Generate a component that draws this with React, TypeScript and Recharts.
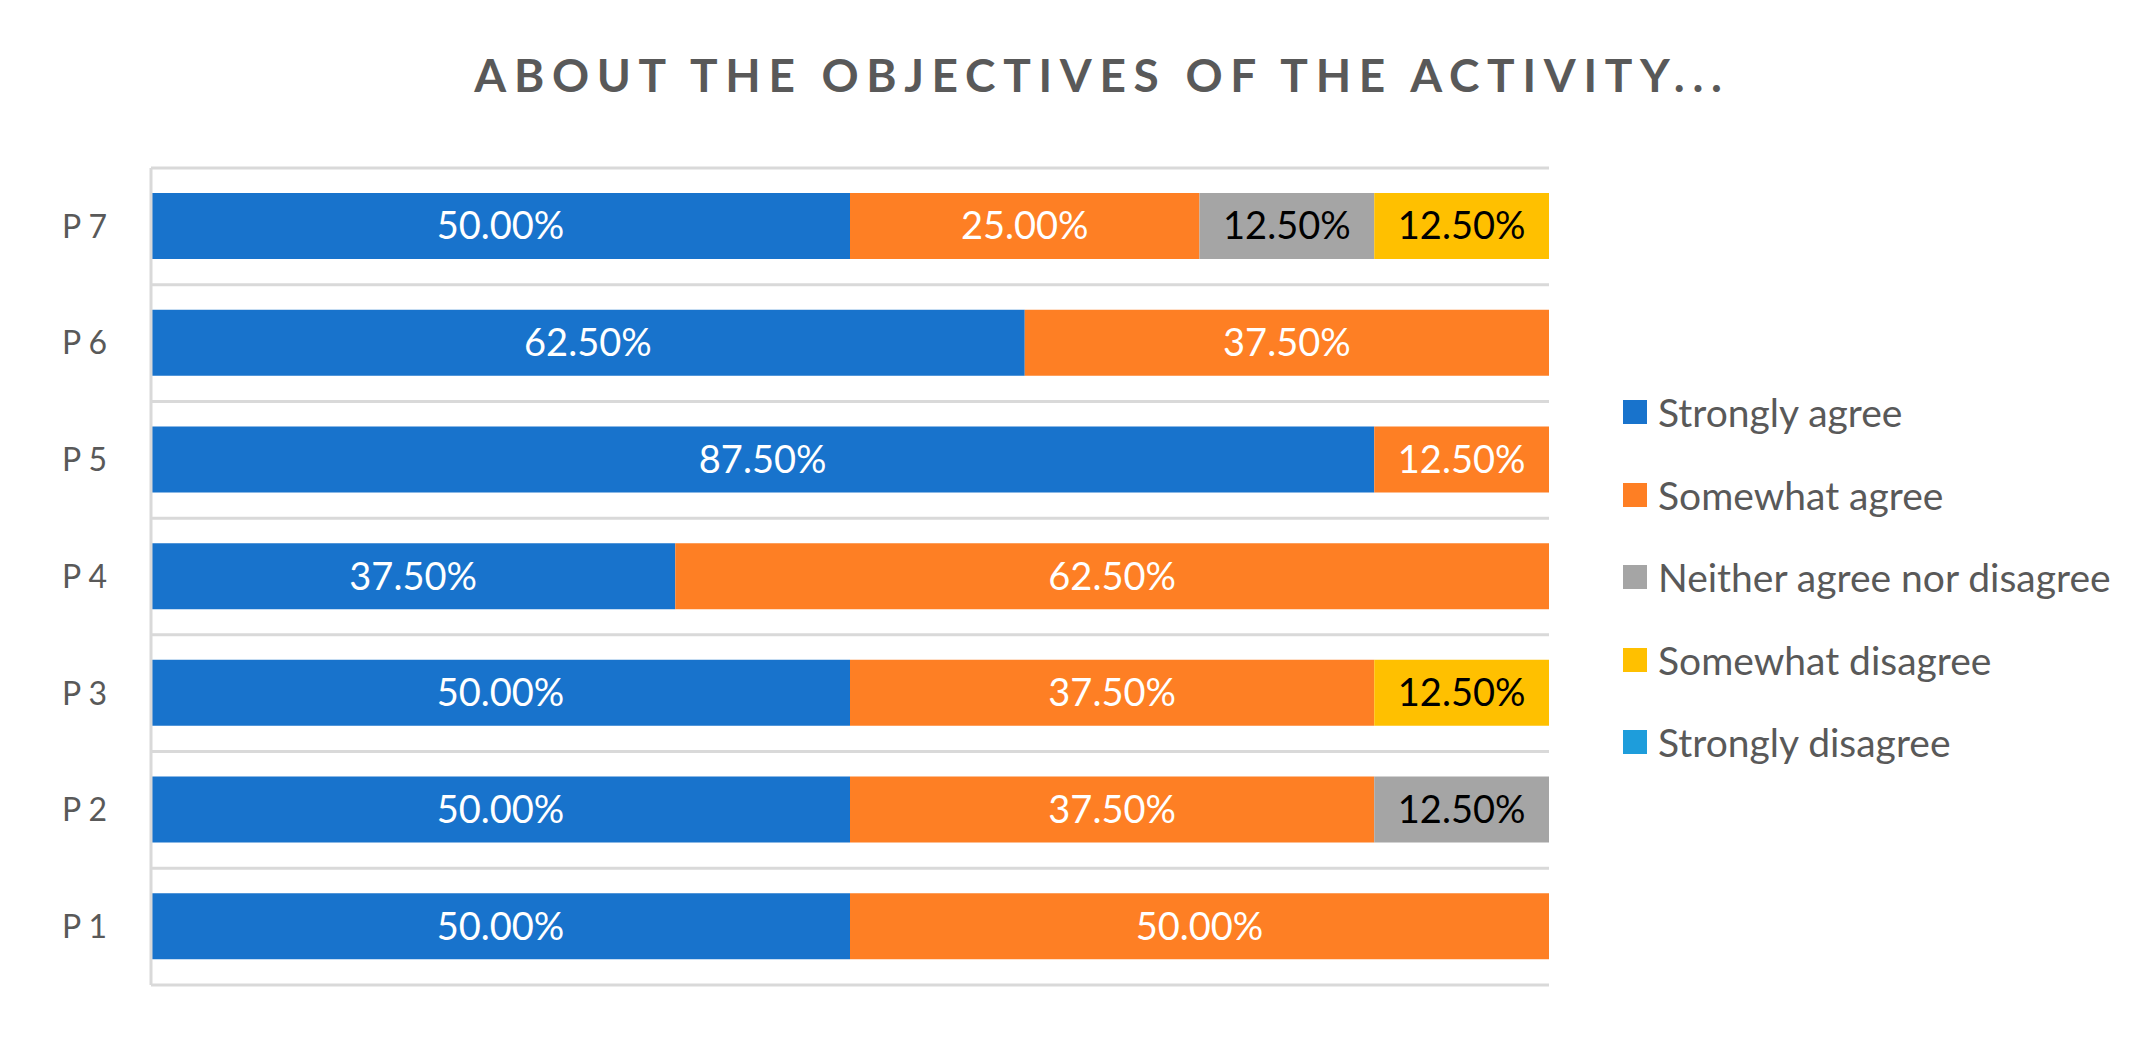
import React from 'react';
import { BarChart, Bar, XAxis, YAxis, CartesianGrid, Legend, LabelList } from 'recharts';

// Survey answers per question, in percent
const questions = ['P 1', 'P 2', 'P 3', 'P 4', 'P 5', 'P 6', 'P 7'];
const stronglyAgree = [50, 50, 50, 37.5, 87.5, 62.5, 50];
const somewhatAgree = [50, 37.5, 37.5, 62.5, 12.5, 37.5, 25];
const neither = [0, 12.5, 0, 0, 0, 0, 12.5];
const somewhatDisagree = [0, 0, 12.5, 0, 0, 0, 12.5];
const stronglyDisagree = [0, 0, 0, 0, 0, 0, 0];

const series = [
  { key: 'Strongly agree', values: stronglyAgree, color: '#1873CC', text: '#ffffff' },
  { key: 'Somewhat agree', values: somewhatAgree, color: '#FE7F24', text: '#ffffff' },
  { key: 'Neither agree nor disagree', values: neither, color: '#A5A5A5', text: '#000000' },
  { key: 'Somewhat disagree', values: somewhatDisagree, color: '#FFC000', text: '#000000' },
  { key: 'Strongly disagree', values: stronglyDisagree, color: '#1E9DDB', text: '#ffffff' },
];

const data = questions.map((q, i) => {
  const row: Record<string, any> = { name: q };
  series.forEach((s) => {
    row[s.key] = s.values[i];
  });
  return row;
});

const FONT = 'Lato, "Open Sans", sans-serif';

// legend keeps the series order (recharts would sort it by name)
const renderLegend = () => (
  <div style={{ fontFamily: FONT }}>
    {series.map((s) => (
      <div key={s.key} style={{ display: 'flex', alignItems: 'center', height: 82.5 }}>
        <span
          style={{
            display: 'inline-block',
            width: 24,
            height: 24,
            background: s.color,
            marginRight: 11,
          }}
        />
        <span style={{ fontSize: 39, color: '#595959' }}>{s.key}</span>
      </div>
    ))}
  </div>
);

// separators between the question bands
const bandLines = ({ offset }: any) =>
  Array.from({ length: questions.length + 1 }, (_, i) => offset.top + (i * offset.height) / questions.length);

const fmt = (v: any) => (v > 0 ? `${Number(v).toFixed(2)}%` : '');

const App: React.FC = () => {
  return (
    <div style={{ position: 'relative', width: 2139, height: 1027, fontFamily: FONT, background: '#fff' }}>
      <div
        style={{
          position: 'absolute',
          left: 1094,
          top: 41,
          transform: 'translateX(-50%)',
          whiteSpace: 'nowrap',
          fontSize: 46,
          fontWeight: 700,
          letterSpacing: 7.7,
          color: '#595959',
          lineHeight: '52px',
        }}
      >
        ABOUT THE OBJECTIVES OF THE ACTIVITY...
      </div>
      <BarChart
        width={2139}
        height={1027}
        data={data}
        layout="vertical"
        margin={{ top: 160, right: 78, bottom: 50, left: 43 }}
        barSize={66}
      >
        <CartesianGrid
          horizontal
          vertical={false}
          horizontalCoordinatesGenerator={bandLines}
          stroke="#d9d9d9"
          strokeWidth={3}
        />
        <XAxis type="number" domain={[0, 100]} hide />
        <YAxis
          type="category"
          dataKey="name"
          reversed
          width={100}
          axisLine={{ stroke: '#d9d9d9', strokeWidth: 3 }}
          tickLine={false}
          tickSize={0}
          tickMargin={44}
          tick={{ fill: '#595959', fontSize: 32, fontFamily: FONT }}
        />
        <Legend
          layout="vertical"
          align="right"
          verticalAlign="top"
          content={renderLegend}
          wrapperStyle={{ left: 1615, top: 363, width: 520 }}
        />
        {series.map((s) => (
          <Bar key={s.key} dataKey={s.key} stackId="a" fill={s.color} isAnimationActive={false}>
            <LabelList
              dataKey={s.key}
              position="center"
              formatter={fmt}
              fill={s.text}
              style={{ fontSize: 38, fontFamily: FONT }}
            />
          </Bar>
        ))}
      </BarChart>
    </div>
  );
};

export default App;
